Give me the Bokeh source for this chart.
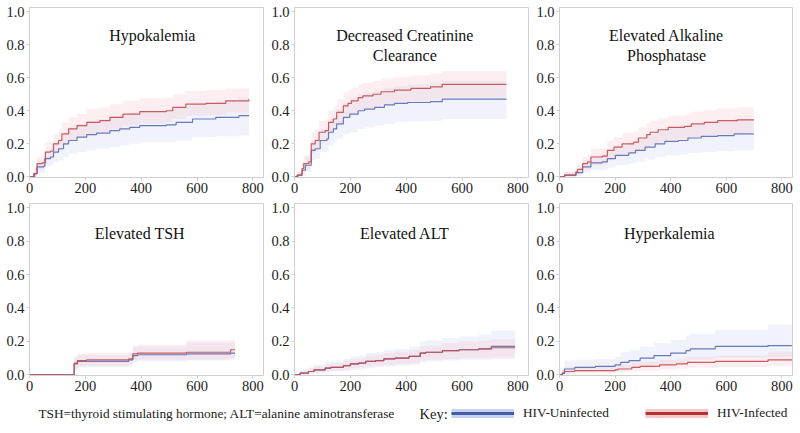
from bokeh.plotting import figure
from bokeh.layouts import column, row
from bokeh.models import (Range1d, FixedTicker, PrintfTickFormatter, Label,
                          Legend, LegendItem)
from bokeh.embed import file_html
from bokeh.resources import INLINE
from bokeh.core.properties import value

FONT = "Times New Roman"
BLUE = "#5a6db3"
RED = "#c24d4d"
BLUE_BAND = "#c0c8f0"
RED_BAND = "#f4b6be"

x_ticks = [0, 200, 400, 600, 800]
y_ticks = [0.0, 0.2, 0.4, 0.6, 0.8, 1.0]
group_labels = ["HIV-Uninfected", "HIV-Infected"]
footnote = "TSH=thyroid stimulating hormone; ALT=alanine aminotransferase"

# ---------------- Hypokalemia ----------------
hypo_t_u = [0, 18, 27, 51, 55, 75, 86, 104, 122, 140, 170, 205, 240, 288, 323, 359, 395, 490, 525, 584, 667, 750, 786]
hypo_s_u = [0, 0.02, 0.06, 0.065, 0.11, 0.12, 0.15, 0.17, 0.20, 0.22, 0.24, 0.255, 0.265, 0.28, 0.29, 0.30, 0.31, 0.315, 0.33, 0.35, 0.36, 0.37, 0.37]
hypo_lo_u = [0, 0, 0.02, 0.025, 0.06, 0.07, 0.09, 0.10, 0.12, 0.14, 0.15, 0.16, 0.17, 0.18, 0.19, 0.20, 0.21, 0.21, 0.22, 0.24, 0.245, 0.25, 0.25]
hypo_hi_u = [0, 0.05, 0.10, 0.11, 0.16, 0.17, 0.21, 0.23, 0.27, 0.30, 0.32, 0.34, 0.35, 0.37, 0.38, 0.39, 0.40, 0.41, 0.43, 0.45, 0.46, 0.48, 0.48]
hypo_t_i = [0, 15, 27, 45, 57, 75, 86, 104, 116, 140, 170, 205, 252, 288, 335, 395, 490, 513, 560, 632, 703, 786]
hypo_s_i = [0, 0.02, 0.08, 0.085, 0.15, 0.155, 0.20, 0.22, 0.26, 0.29, 0.31, 0.33, 0.34, 0.36, 0.38, 0.395, 0.40, 0.42, 0.44, 0.445, 0.46, 0.47]
hypo_lo_i = [0, 0, 0.04, 0.045, 0.10, 0.105, 0.14, 0.16, 0.19, 0.22, 0.24, 0.26, 0.27, 0.29, 0.31, 0.325, 0.33, 0.35, 0.37, 0.375, 0.39, 0.40]
hypo_hi_i = [0, 0.05, 0.12, 0.13, 0.21, 0.215, 0.26, 0.29, 0.33, 0.36, 0.38, 0.41, 0.42, 0.44, 0.46, 0.475, 0.48, 0.50, 0.52, 0.525, 0.535, 0.545]

# ---------------- Decreased Creatinine Clearance ----------------
crcl_t_u = [0, 12, 27, 39, 60, 74, 92, 116, 122, 139, 151, 175, 198, 228, 251, 287, 322, 358, 405, 487, 529, 759]
crcl_s_u = [0, 0.01, 0.04, 0.07, 0.16, 0.17, 0.22, 0.23, 0.27, 0.29, 0.32, 0.36, 0.38, 0.40, 0.41, 0.42, 0.435, 0.445, 0.45, 0.455, 0.47, 0.47]
crcl_lo_u = [0, 0, 0.01, 0.03, 0.10, 0.11, 0.15, 0.16, 0.19, 0.21, 0.23, 0.26, 0.27, 0.29, 0.30, 0.31, 0.32, 0.33, 0.335, 0.34, 0.35, 0.35]
crcl_hi_u = [0, 0.03, 0.08, 0.12, 0.22, 0.23, 0.29, 0.30, 0.35, 0.37, 0.41, 0.45, 0.48, 0.50, 0.51, 0.52, 0.54, 0.55, 0.56, 0.565, 0.58, 0.58]
crcl_t_i = [0, 9, 27, 33, 51, 60, 74, 88, 110, 122, 139, 151, 175, 192, 204, 228, 245, 281, 310, 358, 417, 487, 529, 759]
crcl_s_i = [0, 0.01, 0.05, 0.08, 0.09, 0.20, 0.22, 0.27, 0.28, 0.33, 0.35, 0.39, 0.43, 0.445, 0.46, 0.48, 0.49, 0.50, 0.515, 0.525, 0.535, 0.545, 0.56, 0.56]
crcl_lo_i = [0, 0, 0.02, 0.04, 0.05, 0.14, 0.16, 0.20, 0.21, 0.26, 0.28, 0.31, 0.35, 0.37, 0.38, 0.40, 0.41, 0.42, 0.435, 0.445, 0.455, 0.465, 0.48, 0.48]
crcl_hi_i = [0, 0.03, 0.09, 0.13, 0.14, 0.27, 0.29, 0.34, 0.35, 0.40, 0.42, 0.47, 0.51, 0.525, 0.54, 0.56, 0.57, 0.58, 0.595, 0.605, 0.615, 0.625, 0.64, 0.64]

# ---------------- Elevated Alkaline Phosphatase ----------------
alp_t_u = [0, 18, 59, 83, 113, 154, 172, 201, 249, 273, 308, 344, 379, 427, 462, 510, 569, 628, 699]
alp_s_u = [0, 0.01, 0.025, 0.06, 0.085, 0.09, 0.11, 0.13, 0.145, 0.16, 0.18, 0.20, 0.215, 0.22, 0.235, 0.245, 0.25, 0.26, 0.26]
alp_lo_u = [0, 0, 0.005, 0.025, 0.04, 0.045, 0.055, 0.07, 0.08, 0.09, 0.105, 0.12, 0.13, 0.135, 0.145, 0.15, 0.155, 0.16, 0.16]
alp_hi_u = [0, 0.03, 0.05, 0.10, 0.13, 0.14, 0.165, 0.19, 0.21, 0.23, 0.255, 0.28, 0.30, 0.305, 0.32, 0.335, 0.34, 0.35, 0.35]
alp_t_i = [0, 18, 59, 65, 83, 101, 113, 154, 172, 196, 225, 267, 284, 314, 326, 355, 391, 450, 474, 521, 569, 640, 699]
alp_s_i = [0, 0.01, 0.03, 0.045, 0.08, 0.09, 0.12, 0.125, 0.16, 0.18, 0.20, 0.21, 0.235, 0.255, 0.27, 0.285, 0.30, 0.305, 0.32, 0.33, 0.34, 0.345, 0.345]
alp_lo_i = [0, 0, 0.005, 0.015, 0.04, 0.045, 0.07, 0.075, 0.10, 0.12, 0.135, 0.145, 0.165, 0.18, 0.195, 0.21, 0.225, 0.23, 0.24, 0.25, 0.26, 0.265, 0.265]
alp_hi_i = [0, 0.03, 0.06, 0.08, 0.12, 0.135, 0.17, 0.175, 0.22, 0.24, 0.265, 0.275, 0.30, 0.325, 0.34, 0.355, 0.37, 0.38, 0.395, 0.405, 0.415, 0.42, 0.42]

# ---------------- Elevated TSH ----------------
tsh_t_u = [0, 160, 172, 205, 355, 370, 387, 562, 720, 736]
tsh_s_u = [0, 0.065, 0.08, 0.08, 0.09, 0.115, 0.12, 0.125, 0.13, 0.13]
tsh_lo_u = [0, 0.03, 0.045, 0.045, 0.055, 0.075, 0.08, 0.085, 0.09, 0.09]
tsh_hi_u = [0, 0.105, 0.12, 0.12, 0.13, 0.165, 0.17, 0.19, 0.195, 0.195]
tsh_t_i = [0, 160, 172, 205, 355, 370, 387, 562, 720, 736]
tsh_s_i = [0, 0.07, 0.085, 0.09, 0.095, 0.125, 0.13, 0.135, 0.15, 0.15]
tsh_lo_i = [0, 0.03, 0.05, 0.055, 0.06, 0.085, 0.09, 0.09, 0.10, 0.10]
tsh_hi_i = [0, 0.11, 0.125, 0.13, 0.135, 0.175, 0.18, 0.205, 0.21, 0.21]

# ---------------- Elevated ALT ----------------
alt_t_u = [0, 20, 50, 70, 110, 130, 175, 200, 230, 255, 290, 320, 360, 410, 450, 470, 530, 590, 660, 705, 790]
alt_s_u = [0, 0.01, 0.02, 0.03, 0.04, 0.045, 0.055, 0.065, 0.07, 0.08, 0.085, 0.095, 0.10, 0.11, 0.13, 0.135, 0.145, 0.15, 0.155, 0.17, 0.17]
alt_lo_u = [0, 0, 0.005, 0.01, 0.015, 0.02, 0.025, 0.03, 0.035, 0.04, 0.045, 0.05, 0.055, 0.06, 0.075, 0.08, 0.085, 0.09, 0.09, 0.095, 0.095]
alt_hi_u = [0, 0.03, 0.045, 0.06, 0.075, 0.08, 0.095, 0.11, 0.115, 0.13, 0.135, 0.15, 0.155, 0.17, 0.20, 0.205, 0.22, 0.23, 0.24, 0.265, 0.27]
alt_t_i = [0, 20, 50, 70, 110, 130, 175, 200, 230, 255, 290, 320, 360, 410, 450, 470, 530, 590, 660, 705, 790]
alt_s_i = [0, 0.01, 0.02, 0.03, 0.04, 0.045, 0.055, 0.065, 0.07, 0.08, 0.085, 0.095, 0.10, 0.11, 0.13, 0.135, 0.145, 0.15, 0.155, 0.162, 0.162]
alt_lo_i = [0, 0, 0.008, 0.015, 0.02, 0.025, 0.03, 0.04, 0.045, 0.05, 0.055, 0.06, 0.065, 0.07, 0.085, 0.09, 0.095, 0.10, 0.10, 0.105, 0.105]
alt_hi_i = [0, 0.025, 0.04, 0.05, 0.065, 0.07, 0.085, 0.095, 0.10, 0.115, 0.12, 0.13, 0.14, 0.15, 0.17, 0.175, 0.19, 0.20, 0.205, 0.215, 0.215]

# ---------------- Hyperkalemia ----------------
hyper_t_u = [0, 10, 18, 55, 129, 200, 220, 250, 290, 340, 400, 455, 470, 560, 750, 836]
hyper_s_u = [0, 0.01, 0.035, 0.045, 0.05, 0.06, 0.075, 0.085, 0.10, 0.115, 0.13, 0.145, 0.155, 0.17, 0.175, 0.175]
hyper_lo_u = [0, 0, 0.01, 0.015, 0.02, 0.025, 0.035, 0.04, 0.05, 0.06, 0.07, 0.08, 0.09, 0.10, 0.105, 0.105]
hyper_hi_u = [0, 0.04, 0.085, 0.09, 0.095, 0.11, 0.135, 0.15, 0.17, 0.19, 0.21, 0.235, 0.245, 0.27, 0.30, 0.30]
hyper_t_i = [0, 10, 18, 55, 200, 210, 260, 290, 360, 420, 460, 560, 750, 836]
hyper_s_i = [0, 0.01, 0.02, 0.025, 0.03, 0.035, 0.045, 0.05, 0.06, 0.065, 0.075, 0.08, 0.09, 0.09]
hyper_lo_i = [0, 0, 0.005, 0.01, 0.012, 0.015, 0.022, 0.025, 0.032, 0.036, 0.043, 0.047, 0.055, 0.055]
hyper_hi_i = [0, 0.03, 0.045, 0.05, 0.055, 0.06, 0.075, 0.08, 0.09, 0.095, 0.11, 0.115, 0.14, 0.14]


def make_panel(title_lines, title_x, title_y0, uninf, inf, width, height,
               left, right, top, bottom):
    p = figure(width=width, height=height, x_range=Range1d(0, 838),
               y_range=Range1d(-0.004, 1.025), output_backend="svg",
               toolbar_location=None, min_border_left=left,
               min_border_right=right, min_border_top=top,
               min_border_bottom=bottom)
    p.xgrid.visible = False
    p.ygrid.visible = False
    p.outline_line_color = "#cfcfcf"
    p.outline_line_width = 1
    p.background_fill_color = "white"
    p.border_fill_color = "white"

    for (t, s, lo, hi), band in ((uninf, BLUE_BAND), (inf, RED_BAND)):
        p.varea_step(x=t, y1=lo, y2=hi, step_mode="after",
                     fill_color=band, fill_alpha=0.22)
    for (t, s, lo, hi), col in ((uninf, BLUE), (inf, RED)):
        p.step(x=t, y=s, mode="after", line_color=col, line_width=1.2,
               line_alpha=0.9)

    p.xaxis.ticker = FixedTicker(ticks=x_ticks)
    p.yaxis.ticker = FixedTicker(ticks=y_ticks)
    p.yaxis.formatter = PrintfTickFormatter(format="%.1f")
    for ax in (p.xaxis[0], p.yaxis[0]):
        ax.axis_line_color = "#cfcfcf"
        ax.major_tick_line_color = "#cfcfcf"
        ax.major_tick_out = 3
        ax.major_tick_in = 0
        ax.minor_tick_line_color = None
        ax.major_label_text_font = FONT
        ax.major_label_text_font_size = "14.5px"
        ax.major_label_text_color = "#222222"
        ax.major_label_standoff = 2

    for i, line in enumerate(title_lines):
        p.add_layout(Label(x=title_x, y=title_y0 - 0.12 * i, text=line,
                           text_align="center", text_baseline="middle",
                           text_font=FONT, text_font_size="16px",
                           text_color="#111111"))
    return p


top_h, bot_h = 200, 199

p1 = make_panel(["Hypokalemia"], 440, 0.855,
                (hypo_t_u, hypo_s_u, hypo_lo_u, hypo_hi_u),
                (hypo_t_i, hypo_s_i, hypo_lo_i, hypo_hi_i),
                268, top_h, 29, 5, 7, 23)
p2 = make_panel(["Decreased Creatinine", "Clearance"], 395, 0.855,
                (crcl_t_u, crcl_s_u, crcl_lo_u, crcl_hi_u),
                (crcl_t_i, crcl_s_i, crcl_lo_i, crcl_hi_i),
                265, top_h, 23, 5, 7, 23)
p3 = make_panel(["Elevated Alkaline", "Phosphatase"], 385, 0.855,
                (alp_t_u, alp_s_u, alp_lo_u, alp_hi_u),
                (alp_t_i, alp_s_i, alp_lo_i, alp_hi_i),
                267, top_h, 23, 8, 7, 23)
p4 = make_panel(["Elevated TSH"], 395, 0.845,
                (tsh_t_u, tsh_s_u, tsh_lo_u, tsh_hi_u),
                (tsh_t_i, tsh_s_i, tsh_lo_i, tsh_hi_i),
                268, bot_h, 29, 5, 3, 24)
p5 = make_panel(["Elevated ALT"], 395, 0.845,
                (alt_t_u, alt_s_u, alt_lo_u, alt_hi_u),
                (alt_t_i, alt_s_i, alt_lo_i, alt_hi_i),
                265, bot_h, 23, 5, 3, 24)
p6 = make_panel(["Hyperkalemia"], 395, 0.845,
                (hyper_t_u, hyper_s_u, hyper_lo_u, hyper_hi_u),
                (hyper_t_i, hyper_s_i, hyper_lo_i, hyper_hi_i),
                267, bot_h, 23, 8, 3, 24)

# ---------------- footer with note and key ----------------
foot = figure(width=800, height=34, x_range=Range1d(0, 800), y_range=Range1d(0, 34),
              output_backend="svg", toolbar_location=None, min_border=0)
foot.axis.visible = False
foot.xgrid.visible = False
foot.ygrid.visible = False
foot.outline_line_color = None
foot.text(x=[38], y=[20], text=[footnote], text_font=value(FONT),
          text_font_size="13.3px", text_baseline="middle", text_align="left",
          text_color="#222222")
foot.text(x=[419], y=[20], text=["Key:"], text_font=value(FONT),
          text_font_size="14.5px", text_baseline="middle", text_align="left",
          text_color="#222222")
# proxy renderers for the key (single point, nothing visible in the frame)
bb = foot.line(x=[-50], y=[-50], line_color="#c6d2ee", line_width=9)
bl = foot.line(x=[-50], y=[-50], line_color="#3f5ba9", line_width=3)
rb = foot.line(x=[-50], y=[-50], line_color="#f3c9c9", line_width=9)
rl = foot.line(x=[-50], y=[-50], line_color="#b83232", line_width=3)
legend = Legend(items=[LegendItem(label=group_labels[0], renderers=[bb, bl]),
                       LegendItem(label=group_labels[1], renderers=[rb, rl])],
                orientation="horizontal", location=(451, 10), glyph_width=63,
                glyph_height=20, label_standoff=9, spacing=36, padding=0,
                margin=0, border_line_alpha=0, background_fill_alpha=0,
                label_text_font=FONT, label_text_font_size="13.3px",
                label_text_color="#222222", label_text_baseline="middle")
foot.add_layout(legend)

layout = column(row(p1, p2, p3), row(p4, p5, p6), foot)
open("out.html", "w").write(file_html(layout, INLINE))
